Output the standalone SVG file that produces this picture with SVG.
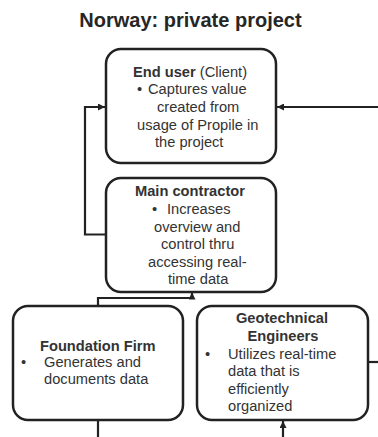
<svg xmlns="http://www.w3.org/2000/svg" width="378" height="437" viewBox="0 0 378 437">
<defs>
<style>
.box{fill:#fff;stroke:#222;stroke-width:2.5}
.con{fill:none;stroke:#222;stroke-width:2.2}
text{font-family:"Liberation Sans",Arial,sans-serif;font-size:14.67px;fill:#333}
.b{font-weight:bold}
.title{font-size:20px;font-weight:bold;fill:#262626}
</style>
<marker id="arr" viewBox="0 0 8 8" refX="8" refY="4" markerWidth="7" markerHeight="7" orient="auto" markerUnits="userSpaceOnUse">
<path d="M0,0 L8,4 L0,8 z" fill="#222"/>
</marker>
</defs>
<rect width="378" height="437" fill="#fff"/>
<text class="title" x="190.5" y="27" text-anchor="middle">Norway: private project</text>

<g id="connectors">
<path class="con" d="M106,234.5 H85 V107 H105" marker-end="url(#arr)"/>
<path class="con" d="M378,107 H277" marker-end="url(#arr)"/>
<path class="con" d="M98,306 V298 H192 V292.5" marker-end="url(#arr)"/>
<path class="con" d="M98,420 V437"/>
<path class="con" d="M283,437 V421" marker-end="url(#arr)"/>
<path class="con" d="M368,362 H378"/>
</g>

<g id="end-user">
<rect class="box" x="106" y="49" width="170" height="114" rx="15"/>
<text x="133" y="77"><tspan class="b">End user</tspan> (Client)</text>
<text x="137" y="94">•</text>
<text x="148" y="94">Captures value</text>
<text x="157" y="112">created from</text>
<text x="137" y="130">usage of Propile in</text>
<text x="155" y="147">the project</text>
</g>

<g id="main-contractor">
<rect class="box" x="106" y="178" width="170" height="114" rx="15"/>
<text class="b" x="135" y="196">Main contractor</text>
<text x="152" y="214">•</text>
<text x="167" y="214">Increases</text>
<text x="154" y="232">overview and</text>
<text x="161" y="249">control thru</text>
<text x="148" y="267">accessing real-</text>
<text x="168" y="284">time data</text>
</g>

<g id="foundation-firm">
<rect class="box" x="13" y="306" width="170" height="114" rx="15"/>
<text class="b" x="40" y="351">Foundation Firm</text>
<text x="21" y="367">•</text>
<text x="44" y="367">Generates and</text>
<text x="44" y="384">documents data</text>
</g>

<g id="geotechnical-engineers">
<rect class="box" x="197" y="306" width="171" height="114" rx="15"/>
<text class="b" x="282" y="323" text-anchor="middle">Geotechnical</text>
<text class="b" x="283" y="341" text-anchor="middle">Engineers</text>
<text x="205" y="359">•</text>
<text x="228" y="359">Utilizes real-time</text>
<text x="228" y="376">data that is</text>
<text x="228" y="394">efficiently</text>
<text x="228" y="411">organized</text>
</g>
</svg>
